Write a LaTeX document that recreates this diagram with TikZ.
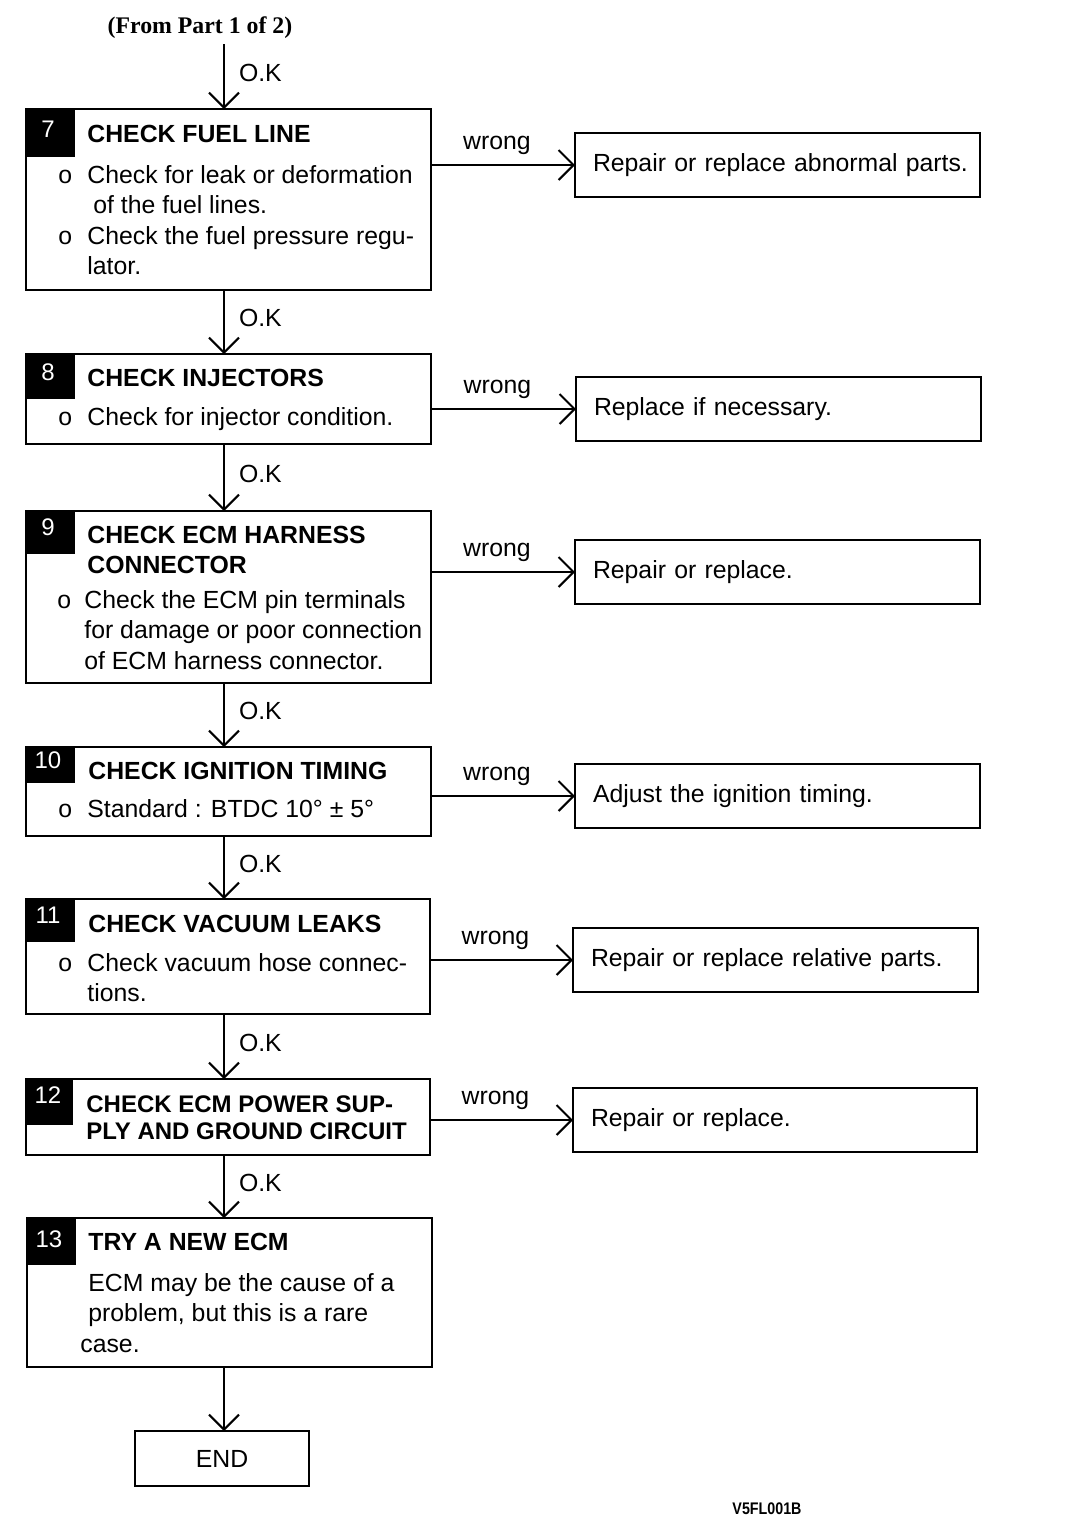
\documentclass[tikz,border=0pt]{standalone}
\usepackage{fontspec}
\setmainfont{Liberation Sans}
\newfontfamily\partfont{Liberation Serif}
\newfontfamily\codefont[FakeStretch=0.85]{Liberation Sans}
\usetikzlibrary{arrows.meta,calc}
\newcommand{\bul}[1][14.5pt]{\makebox[#1][l]{o}}
\newcommand{\lns}[1]{\begin{tabular}[t]{@{}l@{}}#1\end{tabular}}

\tikzset{
  stepbox/.style={draw, line width=1.4pt, anchor=north west, inner sep=0pt, outer sep=0pt, minimum width=202.5pt},
  numbox/.style={fill=black, anchor=north west, inner sep=0pt, outer sep=0pt, minimum width=24.5pt},
  numtxt/.style={text=white, anchor=base, inner sep=0pt, font=\fontsize{12}{14}\selectfont},
  ttl/.style={anchor=base west, inner sep=0pt, font=\fontsize{12.4}{15}\selectfont\bfseries},
  txt/.style={anchor=base west, inner sep=0pt, font=\fontsize{12.4}{15.25}\selectfont},
  fixbox/.style={draw, line width=1.2pt, anchor=north west, outer sep=0pt, minimum width=202.5pt, minimum height=32pt,
    text width=184.5pt, inner xsep=9pt, inner ysep=0pt, align=left, font=\fontsize{12.4}{15}\selectfont},
  flow/.style={line width=1pt, -{Straight Barb[length=7.5pt, width=15pt, line width=1pt]}},
  oklbl/.style={right=7pt, yshift=2pt, inner sep=0pt, font=\fontsize{12.4}{15}\selectfont},
  wronglbl/.style={above=2.5pt, xshift=-3pt, inner sep=2pt, font=\fontsize{12.4}{15}\selectfont},
}

\begin{document}
\begin{tikzpicture}[x=0.5pt, y=-0.5pt]
  %%%%% START %%%%%
  \useasboundingbox (0,0) rectangle (1072,1538);
  \coordinate (spine) at (224,0);

  \node[inner sep=0pt, font=\partfont\fontsize{11.9}{14}\selectfont\bfseries] (from) at (200,28) {(From Part 1 of 2)};
  \coordinate (top) at (224,44);

  % step 7
  \node[stepbox, minimum height=90.5pt] (s7) at (26,109) {};
  \node[numbox, minimum height=24pt] (n7) at (s7.north west) {};
  \node[numtxt] (n7t) at (48,137) {7};
  \node[ttl] (t7) at (87,142) {CHECK FUEL LINE};
  \node[txt] (b7) at (58,183) {\lns{\bul Check for leak or deformation\\
    \hspace*{17.5pt}of the fuel lines.\\
    \bul Check the fuel pressure regu-\\
    \hspace*{14.5pt}lator.}};
  \node[fixbox] (r7) at (575,133) {\mbox{Repair or replace abnormal parts.}};

  % step 8
  \node[stepbox, minimum height=45pt] (s8) at (26,354) {};
  \node[numbox, minimum height=22.5pt] (n8) at (s8.north west) {};
  \node[numtxt] (n8t) at (48,380) {8};
  \node[ttl] (t8) at (87,386) {CHECK INJECTORS};
  \node[txt] (b8) at (58,425) {\bul Check for injector condition.};
  \node[fixbox] (r8) at (576,377) {Replace if necessary.};

  % step 9
  \node[stepbox, minimum height=86pt] (s9) at (26,511) {};
  \node[numbox, minimum height=21.5pt] (n9) at (s9.north west) {};
  \node[numtxt] (n9t) at (48,535) {9};
  \node[ttl] (t9) at (87,543) {\lns{CHECK ECM HARNESS\\CONNECTOR}};
  \node[txt] (b9) at (57,608) {\lns{\bul[13.5pt]Check the ECM pin terminals\\
    \hspace*{13.5pt}for damage or poor connection\\
    \hspace*{13.5pt}of ECM harness connector.}};
  \node[fixbox] (r9) at (575,540) {Repair or replace.};

  % step 10
  \node[stepbox, minimum height=44.5pt] (s10) at (26,747) {};
  \node[numbox, minimum height=18pt] (n10) at (s10.north west) {};
  \node[numtxt] (n10t) at (48,768) {10};
  \node[ttl] (t10) at (88,779) {CHECK IGNITION TIMING};
  \node[txt] (b10) at (58,817) {\bul Standard : BTDC 10° ± 5°};
  \node[fixbox] (r10) at (575,764) {Adjust the ignition timing.};

  % step 11
  \node[stepbox, minimum height=57.5pt, minimum width=202pt] (s11) at (26,899) {};
  \node[numbox, minimum height=21.5pt] (n11) at (s11.north west) {};
  \node[numtxt] (n11t) at (48,923) {11};
  \node[ttl] (t11) at (88,932) {CHECK VACUUM LEAKS};
  \node[txt] (b11) at (58,971) {\lns{\bul Check vacuum hose connec-\\
    \hspace*{14.5pt}tions.}};
  \node[fixbox] (r11) at (573,928) {Repair or replace relative parts.};

  % step 12
  \node[stepbox, minimum height=38pt, minimum width=202pt] (s12) at (26,1079) {};
  \node[numbox, minimum height=23pt, minimum width=23.5pt] (n12) at (s12.north west) {};
  \node[numtxt] (n12t) at (48,1103) {12};
  \node[ttl, font=\fontsize{12}{13.5}\selectfont\bfseries] (t12) at (86,1112) {\lns{CHECK ECM POWER SUP-\\PLY AND GROUND CIRCUIT}};
  \node[fixbox, minimum width=202pt, text width=184pt] (r12) at (573,1088) {Repair or replace.};

  % step 13
  \node[stepbox, minimum height=74.5pt] (s13) at (27,1218) {};
  \node[numbox, minimum height=23.5pt] (n13) at (s13.north west) {};
  \node[numtxt] (n13t) at (49,1247) {13};
  \node[ttl] (t13) at (88,1250) {TRY A NEW ECM};
  \node[txt] (b13) at (80,1291) {\lns{\hspace*{4pt}ECM may be the cause of a\\
    \hspace*{4pt}problem, but this is a rare\\
    case.}};

  % end
  \node[draw, line width=1.4pt, outer sep=0pt, minimum width=87pt, minimum height=27.5pt, font=\fontsize{12.4}{15}\selectfont] (end) at (222,1458.5) {END};

  \node[inner sep=0pt, font=\codefont\fontsize{8.4}{10}\selectfont\bfseries] (code) at (767,1509) {V5FL001B};

  % O.K arrows
  \draw[flow] (top) -- node[oklbl] (k7) {O.K} (s7.north -| spine);
  \draw[flow] (s7.south -| spine) -- node[oklbl] (k8) {O.K} (s8.north -| spine);
  \draw[flow] (s8.south -| spine) -- node[oklbl] (k9) {O.K} (s9.north -| spine);
  \draw[flow] (s9.south -| spine) -- node[oklbl] (k10) {O.K} (s10.north -| spine);
  \draw[flow] (s10.south -| spine) -- node[oklbl] (k11) {O.K} (s11.north -| spine);
  \draw[flow] (s11.south -| spine) -- node[oklbl] (k12) {O.K} (s12.north -| spine);
  \draw[flow] (s12.south -| spine) -- node[oklbl] (k13) {O.K} (s13.north -| spine);
  \draw[flow] (s13.south -| spine) -- (end.north -| spine);

  % wrong arrows
  \draw[flow] (r7.west -| s7.east) -- node[wronglbl] (w7) {wrong} (r7.west);
  \draw[flow] (r8.west -| s8.east) -- node[wronglbl] (w8) {wrong} (r8.west);
  \draw[flow] (r9.west -| s9.east) -- node[wronglbl] (w9) {wrong} (r9.west);
  \draw[flow] (r10.west -| s10.east) -- node[wronglbl] (w10) {wrong} (r10.west);
  \draw[flow] (r11.west -| s11.east) -- node[wronglbl] (w11) {wrong} (r11.west);
  \draw[flow] (r12.west -| s12.east) -- node[wronglbl] (w12) {wrong} (r12.west);
  %%%%% END %%%%%
\end{tikzpicture}
\end{document}
